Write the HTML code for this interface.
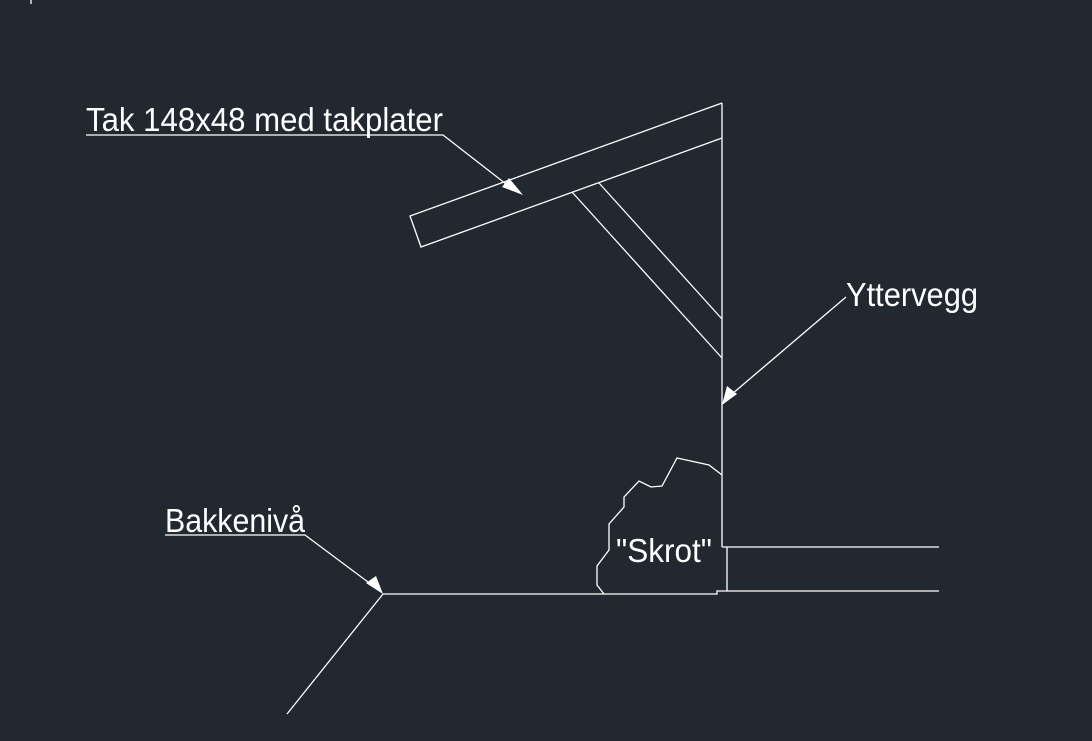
<!DOCTYPE html>
<html><head><meta charset="utf-8"><style>html,body{margin:0;padding:0;background:#212830;}svg{display:block}</style></head>
<body>
<svg width="1092" height="741" viewBox="0 0 1092 741" xmlns="http://www.w3.org/2000/svg">
<rect width="1092" height="741" fill="#212830"/>
<g stroke="#fff" stroke-width="1.3" fill="none">
<line x1="31" y1="0" x2="31" y2="4"/>
<polyline points="722,103 410,216 421,247 722,138"/>
<line x1="722" y1="103" x2="722" y2="547"/>
<line x1="572" y1="192" x2="722" y2="358"/>
<line x1="599" y1="183" x2="722" y2="319"/>
<polyline points="86,135 443,135 515,191"/>
<polyline points="846,297 732,394"/>
<polyline points="165,535 305,535 372,585"/>
<polyline points="722,475 709,465 677,458 662,486 651,487 639,481 624,497 624,507 609,524 609,550 597,566 597,585 604,594"/>
<polyline points="939,547 722,547"/>
<polyline points="727,547 727,591"/>
<polyline points="383,594 717,594 717,591 939,591"/>
<line x1="383" y1="594" x2="287" y2="714"/>
</g>
<g fill="#fff">
<polygon points="523,195 502,187 509,178"/>
<polygon points="722,405 727,386 737,394"/>
<polygon points="383,594 366,583 376,576"/>
</g>
<g fill="#fff" font-family="Liberation Sans, sans-serif" font-size="33">
<text x="86" y="131" textLength="357" lengthAdjust="spacingAndGlyphs">Tak 148x48 med takplater</text>
<text x="846" y="306" textLength="132" lengthAdjust="spacingAndGlyphs">Yttervegg</text>
<text x="165" y="532" textLength="140" lengthAdjust="spacingAndGlyphs">Bakkenivå</text>
<text x="616" y="562" textLength="96" lengthAdjust="spacingAndGlyphs">"Skrot"</text>
</g>
</svg>
</body></html>
